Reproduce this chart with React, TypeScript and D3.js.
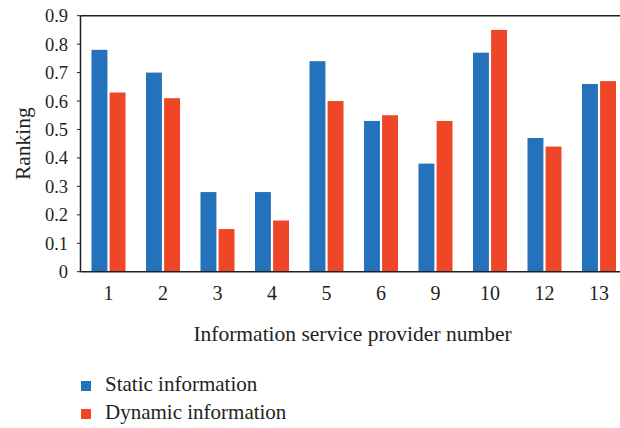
import React from "react";
import * as d3 from "d3";

const categories = ["1", "2", "3", "4", "5", "6", "9", "10", "12", "13"];
const staticInfo = [0.78, 0.7, 0.28, 0.28, 0.74, 0.53, 0.38, 0.77, 0.47, 0.66];
const dynamicInfo = [0.63, 0.61, 0.15, 0.18, 0.6, 0.55, 0.53, 0.85, 0.44, 0.67];
const seriesNames = ["Static information", "Dynamic information"];
const yTicks = [0, 0.1, 0.2, 0.3, 0.4, 0.5, 0.6, 0.7, 0.8, 0.9];

const W = 620;
const H = 428;
const colors = ["#2472bb", "#ef4628"];
const font = "'Liberation Serif', serif";
const ink = "#231f20";

export default function App() {
  const left = 80.5;
  const right = 620;
  const top = 15.7;
  const bottom = 271.7;
  const x = d3
    .scaleBand<string>()
    .domain(categories)
    .range([81.25, 626.25])
    .paddingInner(0.376)
    .paddingOuter(0.188);
  const x1 = d3
    .scaleBand<string>()
    .domain(seriesNames)
    .range([0, x.bandwidth()])
    .paddingInner(0.12);
  const y = d3.scaleLinear().domain([0, 0.9]).range([bottom, top]);
  const series = [staticInfo, dynamicInfo];

  return (
    <svg width={W} height={H} style={{ position: "absolute", left: 0, top: 0 }}>
      <rect width={W} height={H} fill="#fff" />
      {series.map((vals, si) =>
        categories.map((c, i) => (
          <rect
            key={`${si}-${c}`}
            x={(x(c) as number) + (x1(seriesNames[si]) as number)}
            y={y(vals[i])}
            width={x1.bandwidth()}
            height={bottom - y(vals[i])}
            fill={colors[si]}
          />
        ))
      )}
      <line x1={left} x2={right} y1={top} y2={top} stroke={ink} strokeWidth={1.5} />
      <line x1={left} x2={right} y1={bottom} y2={bottom} stroke={ink} strokeWidth={1.5} />
      <line x1={left} x2={left} y1={top} y2={bottom} stroke={ink} strokeWidth={1.5} />
      {yTicks.map((t) => (
        <g key={t}>
          <line x1={left - 3.5} x2={left} y1={y(t)} y2={y(t)} stroke={ink} strokeWidth={1} />
          <text
            x={68}
            y={y(t)}
            dy="0.35em"
            textAnchor="end"
            fontFamily={font}
            fontSize={18.5}
            fill={ink}
          >
            {t === 0 ? "0" : d3.format(".1f")(t)}
          </text>
        </g>
      ))}
      {categories.map((c) => (
        <text
          key={c}
          x={(x(c) as number) + x.bandwidth() / 2}
          y={300}
          textAnchor="middle"
          fontFamily={font}
          fontSize={20}
          fill={ink}
        >
          {c}
        </text>
      ))}
      <text
        transform={`translate(30,${(top + bottom) / 2}) rotate(-90)`}
        textAnchor="middle"
        fontFamily={font}
        fontSize={21.5}
        fill={ink}
      >
        Ranking
      </text>
      <text
        x={352.5}
        y={341}
        textAnchor="middle"
        fontFamily={font}
        fontSize={21.5}
        fill={ink}
      >
        Information service provider number
      </text>
      {seriesNames.map((s, i) => (
        <g key={s}>
          <rect x={81} y={381 + i * 28} width={10} height={10} fill={colors[i]} />
          <text x={105} y={390.5 + i * 28} fontFamily={font} fontSize={21} fill={ink}>
            {s}
          </text>
        </g>
      ))}
    </svg>
  );
}
